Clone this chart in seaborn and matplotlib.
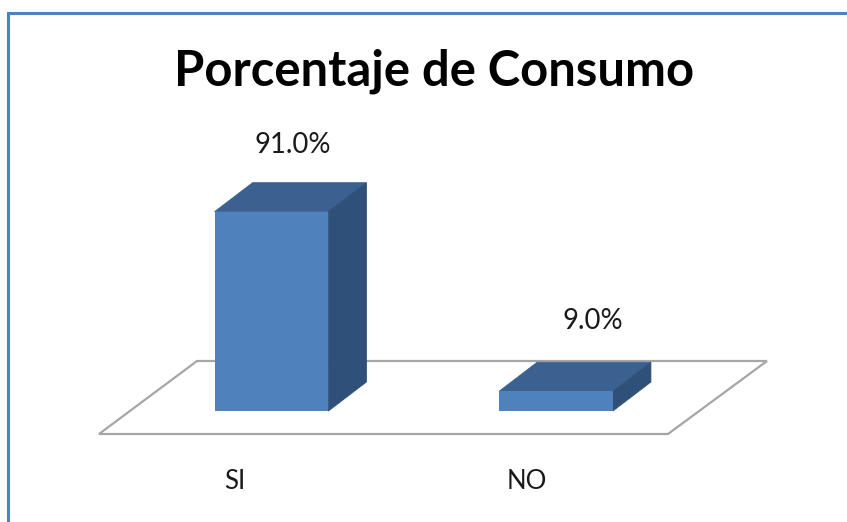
import matplotlib
matplotlib.use("Agg")
import matplotlib.pyplot as plt
import seaborn as sns
import pandas as pd
from matplotlib.patches import Polygon

categories = ["SI", "NO"]
values = [91.0, 9.0]
title = "Porcentaje de Consumo"

W, H = 847, 522
FRONT = "#4F81BD"
TOP = "#3A6190"
SIDE = "#2F5078"
FLOOR = "#A6A6A6"
FRAME = "#4F81BD"

# pixel geometry of the plot
X0, SPACING = 271.5, 284.5   # centre of first category, px between categories
Y0, PX_PER_UNIT = 411.0, 2.19  # baseline row, px per percent
BAR_W = 0.40
DX = 38 / SPACING            # depth offset in x data units
DY = 29 / PX_PER_UNIT        # depth offset in y data units

# label centres in reference pixels
VALUE_X = [292.5, 592.5]
VALUE_Y = [144, 320]
CAT_X = [235, 527]
CAT_Y = 481.5

sns.set_theme(style="white")
plt.rcParams["font.family"] = ["Lato", "DejaVu Sans"]

fig = plt.figure(figsize=(W / 100, H / 100), dpi=100)
ax = fig.add_axes([0, 0, 1, 1])
df = pd.DataFrame({"cat": categories, "val": values})
sns.barplot(data=df, x="cat", y="val", color=FRONT, saturation=1, width=BAR_W,
            ax=ax, zorder=4, linewidth=0)
ax.set_xlim(-X0 / SPACING, (W - X0) / SPACING)
ax.set_ylim(-(H - Y0) / PX_PER_UNIT, Y0 / PX_PER_UNIT)
ax.axis("off")


def px(x, y):
    """pixel position in the reference -> data position"""
    return ((x - X0) / SPACING, (Y0 - y) / PX_PER_UNIT)


# floor
ax.add_patch(Polygon([px(99, 434), px(668, 434), px(767, 361), px(197, 361)],
                     closed=True, facecolor="white", edgecolor=FLOOR, linewidth=1.6, zorder=1))

# depth faces of each bar
for i, v in enumerate(values):
    l, r = i - BAR_W / 2, i + BAR_W / 2
    ax.add_patch(Polygon([(l, v), (r, v), (r + DX, v + DY), (l + DX, v + DY)],
                         closed=True, facecolor=TOP, edgecolor=TOP, linewidth=0.6, zorder=3))
    ax.add_patch(Polygon([(r, 0), (r + DX, DY), (r + DX, v + DY), (r, v)],
                         closed=True, facecolor=SIDE, edgecolor=SIDE, linewidth=0.6, zorder=3))
    ax.text(px(VALUE_X[i], 0)[0], px(0, VALUE_Y[i] + 1)[1], f"{v:.1f}%", ha="center", va="center",
            fontsize=19.8, color="#1a1a1a", zorder=5)
    ax.text(px(CAT_X[i], 0)[0], px(0, CAT_Y)[1], categories[i], ha="center", va="center",
            fontsize=18.5, color="#1a1a1a", zorder=5)

ax.text(px(434.5, 0)[0], px(0, 71.5)[1], title, ha="center", va="center",
        fontsize=35.3, fontweight="bold", color="black", zorder=5)

# chart frame, cut by the image's right and bottom edges
ax.plot([px(8, 0)[0], px(8, 0)[0], px(W, 0)[0]],
        [px(0, H)[1], px(0, 12.5)[1], px(0, 12.5)[1]],
        color=FRAME, linewidth=2.2, solid_joinstyle="miter", clip_on=False, zorder=6)

fig.savefig("out.png", dpi=100, facecolor="white")
